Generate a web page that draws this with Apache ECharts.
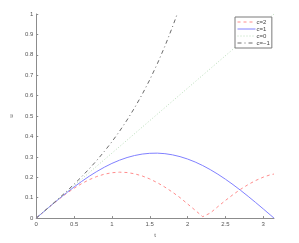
<!DOCTYPE html>
<html><head><meta charset="utf-8">
<script src="https://cdn.jsdelivr.net/npm/echarts@6/dist/echarts.min.js"></script>
<style>html,body{margin:0;padding:0;background:#fff}#c{width:299px;height:243px}</style>
</head><body><div id="c"></div>
<script>
var xTicks = [0, 0.5, 1, 1.5, 2, 2.5, 3];
var yTicks = [0, 0.1, 0.2, 0.3, 0.4, 0.5, 0.6, 0.7, 0.8, 0.9, 1];
var seriesNames = ['c=2', 'c=1', 'c=0', 'c=\u22121'];

var t_c2 = [0,0.1,0.2,0.3,0.4,0.5,0.6,0.7,0.8,0.9,1.0,1.1,1.2,1.3,1.4,1.5,1.6,1.7,1.8,1.9,2.0,2.1,2.2,2.2214,2.3,2.4,2.5,2.6,2.7,2.8,2.9,3.0,3.1,3.1416];
var u_c2 = [0,0.0317,0.0628,0.0927,0.1207,0.1462,0.1689,0.1882,0.2037,0.2152,0.2223,0.2251,0.2233,0.2170,0.2065,0.1919,0.1735,0.1518,0.1272,0.1003,0.0693,0.0385,0.0068,0,0.0250,0.0562,0.0864,0.1149,0.1411,0.1643,0.1843,0.2007,0.2131,0.2158];

var t_c1 = [0,0.1,0.2,0.3,0.4,0.5,0.6,0.7,0.8,0.9,1.0,1.1,1.2,1.3,1.4,1.5,1.6,1.7,1.8,1.9,2.0,2.1,2.2,2.3,2.4,2.5,2.6,2.7,2.8,2.9,3.0,3.1,3.1416];
var u_c1 = [0,0.0318,0.0632,0.0941,0.1240,0.1526,0.1797,0.2051,0.2283,0.2493,0.2679,0.2837,0.2967,0.3067,0.3137,0.3175,0.3182,0.3157,0.3100,0.3012,0.2894,0.2748,0.2574,0.2374,0.2150,0.1905,0.1641,0.1360,0.1066,0.0762,0.0449,0.0132,0];

var t_c0 = [0, 3.1416];
var u_c0 = [0, 1];

var t_cm1 = [0,0.1,0.2,0.3,0.4,0.5,0.6,0.7,0.8,0.9,1.0,1.1,1.2,1.3,1.4,1.5,1.6,1.7,1.8,1.85,1.862];
var u_cm1 = [0,0.0319,0.0641,0.0969,0.1308,0.1659,0.2027,0.2415,0.2827,0.3268,0.3741,0.4252,0.4805,0.5406,0.6062,0.6778,0.7562,0.8421,0.9365,0.9872,1.0];

function pts(xs, ys){ return xs.map(function(x,i){ return [x, ys[i]]; }); }

var F = 'Liberation Sans, Arial, sans-serif';
var axisCol = '#8c8c8c';
var chart = echarts.init(document.getElementById('c'), null, {renderer:'canvas'});
chart.setOption({
  animation: false,
  backgroundColor: '#fff',
  grid: {left: 25, right: 25, top: 14, bottom: 18, containLabel: false},
  legend: {
    data: seriesNames,
    orient: 'vertical', left: 235, top: 17,
    itemWidth: 18, itemHeight: 6, itemGap: 1,
    padding: [2, 2, 2, 2],
    borderColor: '#7a7a7a', borderWidth: 1, backgroundColor: '#fff',
    itemStyle: {opacity: 0},
    lineStyle: {width: 1},
    textStyle: {fontFamily: F, fontSize: 6, color: '#444', padding: [0,0,0,-4]}
  },
  xAxis: {
    type: 'value', min: 0, max: 3.1416, interval: 0.5,
    name: 't', nameLocation: 'middle', nameGap: 11,
    nameTextStyle: {fontFamily: F, fontSize: 6, color: '#555'},
    axisLine: {lineStyle: {color: axisCol, width: 1}},
    axisTick: {inside: true, length: 2, lineStyle: {color: axisCol}},
    axisLabel: {fontFamily: F, fontSize: 6, color: '#555', margin: 3, showMaxLabel: false,
      formatter: function(v){ return xTicks.indexOf(Math.round(v*10)/10) >= 0 ? String(Math.round(v*10)/10) : ''; }},
    splitLine: {show: false}
  },
  yAxis: {
    type: 'value', min: 0, max: 1, interval: 0.1,
    name: 'u', nameLocation: 'middle', nameGap: 16, nameRotate: 90,
    nameTextStyle: {fontFamily: F, fontSize: 6, color: '#555'},
    axisLine: {show: true, lineStyle: {color: axisCol, width: 1}},
    axisTick: {show: true, inside: true, length: 2, lineStyle: {color: axisCol}},
    axisLabel: {fontFamily: F, fontSize: 6, color: '#555', margin: 3,
      formatter: function(v){ var r = Math.round(v*10)/10; return yTicks.indexOf(r) >= 0 ? String(r) : ''; }},
    splitLine: {show: false}
  },
  series: [
    {name: seriesNames[0], type: 'line', data: pts(t_c2, u_c2), showSymbol: false, symbol: 'none',
      lineStyle: {color: '#ff8c8c', width: 1, type: [3, 3]}, itemStyle: {color: '#ff8c8c'}},
    {name: seriesNames[1], type: 'line', data: pts(t_c1, u_c1), showSymbol: false, symbol: 'none',
      lineStyle: {color: '#8080ff', width: 1, type: 'solid'}, itemStyle: {color: '#8080ff'}},
    {name: seriesNames[2], type: 'line', data: pts(t_c0, u_c0), showSymbol: false, symbol: 'none',
      lineStyle: {color: '#b8dcb8', width: 1, type: [1, 2]}, itemStyle: {color: '#b8dcb8'}},
    {name: seriesNames[3], type: 'line', data: pts(t_cm1, u_cm1), showSymbol: false, symbol: 'none',
      lineStyle: {color: '#6a6a6a', width: 1, type: [4, 3, 1, 3]}, itemStyle: {color: '#6a6a6a'}}
  ]
});
</script></body></html>
